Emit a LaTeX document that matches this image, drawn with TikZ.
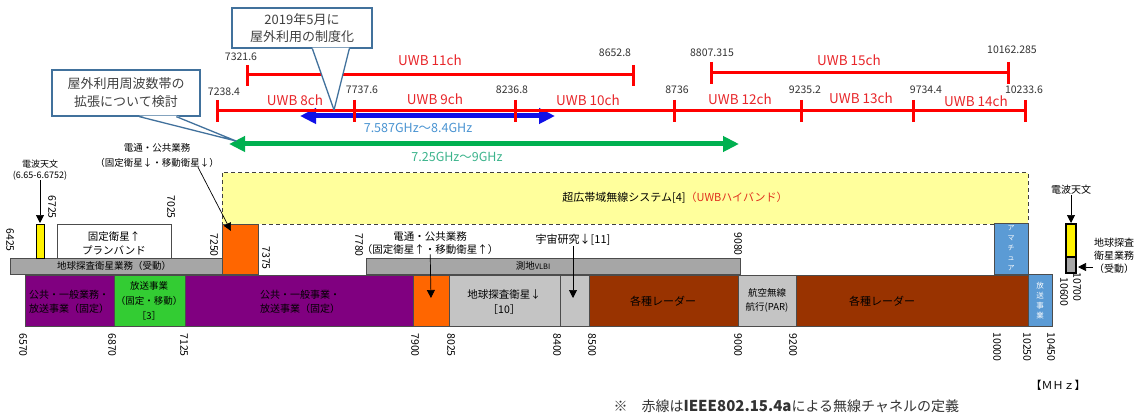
\documentclass[tikz,border=0pt]{standalone}
\usepackage{fontspec}
\setmainfont{Noto Sans CJK JP}
\usetikzlibrary{arrows.meta}
\definecolor{chred}{HTML}{FF0000}
\definecolor{chtext}{HTML}{E8262A}
\definecolor{numgray}{HTML}{333333}
\definecolor{callblue}{HTML}{41719C}
\definecolor{rangeblue}{HTML}{1010E8}
\definecolor{bluetext}{HTML}{4A94D2}
\definecolor{rangegreen}{HTML}{00B050}
\definecolor{greentext}{HTML}{3CB48C}
\definecolor{uwbyellow}{HTML}{FFFF9C}
\definecolor{uwbred}{HTML}{E0301E}
\definecolor{bandorange}{HTML}{FF6600}
\definecolor{bandgray}{HTML}{A6A6A6}
\definecolor{bandlight}{HTML}{C4C4C4}
\definecolor{bandpurple}{HTML}{800080}
\definecolor{bandgreen}{HTML}{33CC33}
\definecolor{bandbrown}{HTML}{993300}
\definecolor{bandblue}{HTML}{5B9BD5}
\begin{document}
\begin{tikzpicture}[x=1pt,y=-1pt,
  chline/.style={draw=chred,line width=3pt},
  chname/.style={text=chtext,inner sep=0pt,font=\fontsize{13.5}{16}\selectfont},
  freq/.style={text=numgray,inner sep=0pt,font=\fontsize{10.5}{12}\selectfont},
  vfreq/.style={rotate=-90,inner sep=0pt,font=\fontsize{10.5}{12}\selectfont},
  bandline/.style={draw=black!70,line width=0.8pt},
  bandtext/.style={align=center,inner sep=0pt,font=\fontsize{10}{14}\selectfont},
  callbox/.style={draw=callblue,line width=1.3pt,fill=white,align=center,text=black!75,inner sep=1pt},
  callside/.style={draw=callblue,line width=1.3pt,line join=round},
  tipline/.style={-{Triangle[length=8pt,width=8pt]},line width=0.7pt},
  spanarrow/.style={line width=5pt,{Triangle[length=16pt,width=15pt]}-{Triangle[length=16pt,width=15pt]}}]
\useasboundingbox (0,0) rectangle (1139,414);
\fill[white] (0,0) rectangle (1139,414);
% Ranges
\coordinate (b0) at (300,116);
\coordinate (b1) at (555,116);
\coordinate (g0) at (229,144);
\coordinate (g1) at (739,144);
\draw[spanarrow,rangeblue] (b0) -- (b1);
\draw[spanarrow,rangegreen] (g0) -- (g1);
\node[text=bluetext,font=\fontsize{12.5}{14}\selectfont] (bluerange) at (418,128) {7.587GHz〜8.4GHz};
\node[text=greentext,font=\fontsize{12.5}{14}\selectfont] (greenrange) at (457,157) {7.25GHz〜9GHz};
% UWB channels
\path[chline] (247,75) -- (633,75);
\path[chline] (247,65) -- (247,86);
\path[chline] (633,65) -- (633,86);
\path[chline] (711,73) -- (1008,73);
\path[chline] (711,62) -- (711,84);
\path[chline] (1008,62) -- (1008,84);
\path[chline] (217,111) -- (1025,111);
\foreach \x in {217,354,515,674,801,913,1025}
  \path[chline] (\x,100) -- (\x,122);
\node[freq] (f73216) at (241,57) {7321.6};
\node[freq] (f86528) at (615,53) {8652.8};
\node[freq] (f88073) at (712,53) {8807.315};
\node[freq] (f101622) at (1012,50) {10162.285};
\node[freq] (f72384) at (224,92) {7238.4};
\node[freq] (f77376) at (362,90) {7737.6};
\node[freq] (f82368) at (512,90) {8236.8};
\node[freq] (f8736) at (677,90) {8736};
\node[freq] (f92352) at (805,90) {9235.2};
\node[freq] (f97344) at (926,90) {9734.4};
\node[freq] (f102336) at (1024,90) {10233.6};
\node[chname] (ch11) at (430,60) {UWB 11ch};
\node[chname] (ch15) at (849,60) {UWB 15ch};
\node[chname] (ch8) at (295,100) {UWB 8ch};
\node[chname] (ch9) at (435,99) {UWB 9ch};
\node[chname] (ch10) at (588,100) {UWB 10ch};
\node[chname] (ch12) at (740,99) {UWB 12ch};
\node[chname] (ch13) at (861,98) {UWB 13ch};
\node[chname] (ch14) at (976,101) {UWB 14ch};
% Callouts
\coordinate (p19) at (334,110);
\coordinate (pext) at (236,141);
\node[callbox,minimum width=140pt,minimum height=40pt,font=\fontsize{13}{17}\selectfont] (c19) at (302,28) {2019年5月に\\屋外利用の制度化};
\path[fill=white] ([xshift=81pt,yshift=1pt]c19.south west) -- (p19) -- ([xshift=118pt,yshift=1pt]c19.south west) -- cycle;
\path[callside] ([xshift=81pt]c19.south west) -- (p19) -- ([xshift=118pt]c19.south west);
\node[callbox,minimum width=148pt,minimum height=46pt,font=\fontsize{13}{18}\selectfont] (cext) at (126,93) {屋外利用周波数帯の\\拡張について検討};
\path[fill=white] ([xshift=88pt,yshift=1pt]cext.south west) -- (pext) -- ([xshift=125pt,yshift=1pt]cext.south west) -- cycle;
\path[callside] ([xshift=88pt]cext.south west) -- (pext) -- ([xshift=125pt]cext.south west);
% UWB high band
\path[draw=black!75,line width=1pt,dash pattern=on 4pt off 3pt,fill=uwbyellow] (222,173) rectangle (1028,224);
\node[font=\fontsize{11}{13}\selectfont] (uwb) at (675,198) {超広帯域無線システム[4]\textcolor{uwbred}{（UWBハイバンド）}};
% Left end
\path[bandline,fill=bandgray] (10,258) rectangle (222,274);
\node[bandtext,font=\fontsize{9.5}{12}\selectfont] (eess1) at (114,266) {地球探査衛星業務（受動）};
\path[draw=black,line width=1pt,fill=yellow] (36,224) rectangle (44,258);
\path[bandline,fill=white] (57,224) rectangle (171,258);
\node[bandtext,font=\fontsize{10.5}{14}\selectfont] (fss) at (114,243) {固定衛星↑\\プランバンド};
\node[bandtext,font=\fontsize{9}{11}\selectfont] (ra1) at (40,170) {電波天文\\(6.65-6.6752)};
\coordinate (ra1tip) at (40,223);
\draw[tipline] (ra1) -- (ra1tip);
\path[bandline,fill=bandorange] (222,224) rectangle (258,274);
\node[bandtext,font=\fontsize{9.5}{15}\selectfont] (cp1) at (157,155) {電通・公共業務\\（固定衛星↓・移動衛星↓）};
\coordinate (cp1tip) at (231,231);
\draw[tipline] ([xshift=-21pt]cp1.south east) -- (cp1tip);
% Middle
\path[bandline,fill=bandgray] (366,258) rectangle (740,274);
\node[font=\fontsize{9.5}{11}\selectfont,inner sep=0pt] (vlbi) at (533,266) {測地{\fontsize{7.5}{9}\selectfont VLBI}};
\node[bandtext,font=\fontsize{10.5}{12.5}\selectfont] (cp2) at (430,243) {電通・公共業務\\（固定衛星↑・移動衛星↑）};
\node[font=\fontsize{11}{13}\selectfont,inner sep=0pt] (sr) at (573,240) {宇宙研究↓[11]};
% Allocations
\path[bandline,fill=bandpurple] (25,275) rectangle (114,326);
\path[bandline,fill=bandgreen] (114,275) rectangle (185,326);
\path[bandline,fill=bandpurple] (185,275) rectangle (413,326);
\path[bandline,fill=bandorange] (413,275) rectangle (449,326);
\path[bandline,fill=bandlight] (449,275) rectangle (560,326);
\path[bandline,fill=bandlight] (560,275) rectangle (589,326);
\path[bandline,fill=bandbrown] (589,275) rectangle (738,326);
\path[bandline,fill=bandlight] (738,275) rectangle (796,326);
\path[bandline,fill=bandbrown] (796,275) rectangle (1028,326);
\node[bandtext] (pub1) at (69,302) {公共・一般業務・\\放送事業（固定）};
\node[bandtext,font=\fontsize{9.5}{15}\selectfont] (bc1) at (149,301) {放送事業\\（固定・移動）\\［3］};
\node[bandtext] (pub2) at (300,302) {公共・一般事業・\\放送事業（固定）};
\node[bandtext,font=\fontsize{10.5}{15}\selectfont] (ees2) at (504,302) {地球探査衛星↓\\［10］};
\node[bandtext,font=\fontsize{11}{14}\selectfont] (rad1) at (663,301) {各種レーダー};
\node[bandtext,font=\fontsize{9.5}{14}\selectfont] (arn) at (767,300) {航空無線\\航行(PAR)};
\node[bandtext,font=\fontsize{11}{14}\selectfont] (rad2) at (882,301) {各種レーダー};
\coordinate (o2tip) at (431,298);
\coordinate (srtip) at (573,298);
\draw[tipline] (cp2) -- (o2tip);
\draw[tipline] (sr) -- (srtip);
% Right end
\path[bandline,fill=bandblue] (994,223) rectangle (1028,274);
\node[bandtext,text=white,font=\fontsize{7}{10}\selectfont] (ama) at (1011,248) {ア\\マ\\チ\\ュ\\ア};
\path[bandline,fill=bandblue] (1028,274) rectangle (1052,326);
\node[bandtext,text=white,font=\fontsize{7.5}{10}\selectfont] (bc2) at (1040,301) {放\\送\\事\\業};
\path[draw=black,line width=1.2pt,fill=yellow] (1066,224) rectangle (1076,257);
\path[draw=black,line width=1.2pt,fill=bandgray] (1066,257) rectangle (1076,273);
\node[bandtext] (ra2) at (1071,190) {電波天文};
\coordinate (ra2tip) at (1071,223);
\draw[tipline] (ra2) -- (ra2tip);
\node[bandtext,inner sep=1pt,font=\fontsize{10}{13}\selectfont] (ees3) at (1114,256) {地球探査\\衛星業務\\（受動）};
\coordinate (ees3tip) at (1078,267);
\draw[tipline] ([yshift=-11pt]ees3.west) -- (ees3tip);
% Frequencies
\node[vfreq] (v6425) at (10,240) {6425};
\node[vfreq] (v6725) at (52,207) {6725};
\node[vfreq] (v7025) at (171,207) {7025};
\node[vfreq] (v7250) at (214,245) {7250};
\node[vfreq] (v7375) at (266,258) {7375};
\node[vfreq] (v7780) at (359,245) {7780};
\node[vfreq] (v9080) at (738,244) {9080};
\node[vfreq] (v6570) at (23,345) {6570};
\node[vfreq] (v6870) at (112,345) {6870};
\node[vfreq] (v7125) at (184,345) {7125};
\node[vfreq] (v7900) at (415,345) {7900};
\node[vfreq] (v8025) at (451,345) {8025};
\node[vfreq] (v8400) at (557,345) {8400};
\node[vfreq] (v8500) at (592,345) {8500};
\node[vfreq] (v9000) at (738,345) {9000};
\node[vfreq] (v9200) at (793,345) {9200};
\node[vfreq] (v10000) at (997,347) {10000};
\node[vfreq] (v10250) at (1027,347) {10250};
\node[vfreq] (v10450) at (1051,347) {10450};
\node[vfreq] (v10600) at (1064,292) {10600};
\node[vfreq] (v10700) at (1077,287) {10700};
% Notes
\node[font=\fontsize{11}{13}\selectfont] (unit) at (1058,385) {【ＭＨｚ】};
\node[anchor=west,text=numgray,font=\fontsize{14}{16}\selectfont] (foot) at (610,406)
  {※\quad 赤線は\textbf{\fontsize{15}{16}\selectfont IEEE802.15.4a}による無線チャネルの定義};
\end{tikzpicture}
\end{document}
